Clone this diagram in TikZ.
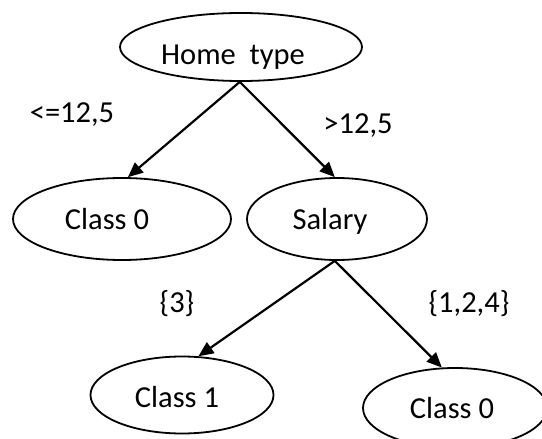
\documentclass[tikz,border=0pt]{standalone}
\usepackage{fontspec}
\setmainfont{Carlito}
\usetikzlibrary{shapes.geometric,arrows.meta}
\begin{document}
\begin{tikzpicture}[x=1pt,y=-1pt,
  oval/.style={draw=black,line width=1.8pt,ellipse,inner sep=0pt},
  txt/.style={inner sep=0pt,anchor=base,font=\fontsize{30.5}{36}\selectfont},
  arr/.style={line width=2.2pt,-{Triangle[length=15pt,width=13pt]}}]
\useasboundingbox (0,0) rectangle (542,439);
\clip (0,0) rectangle (542,439);
% ellipses
\node[oval,minimum width=242pt,minimum height=68pt] (home) at (241,47) {};
\node[oval,minimum width=218pt,minimum height=82pt] (c0) at (122,219) {};
\node[oval,minimum width=180pt,minimum height=82pt] (sal) at (337,219) {};
\node[oval,minimum width=183pt,minimum height=77pt] (c1) at (182,395) {};
\node[oval,minimum width=184pt,minimum height=80pt] (c0r) at (455,408) {};
% texts
\begin{scope}
\clip (120,0) rectangle (363,68);
\node[txt] (thome) at (233,64) {Home\ \ type};
\end{scope}
\node[txt] (tc0) at (107,229) {Class 0};
\node[txt] (tsal) at (330,229) {Salary};
\node[txt] (tc1) at (177,407) {Class 1};
\node[txt] (tc0r) at (452,418) {Class 0};
% edge labels
\node[txt] (l1) at (72,122) {<=12,5};
\node[txt] (l2) at (358,133) {>12,5};
\node[txt] (l3) at (177,312) {\{3\}};
\node[txt] (l4) at (469,312) {\{1,2,4\}};
% connectors
\draw[arr] (home.268) -- (c0.82);
\draw[arr] (home.268) -- (sal.93);
\draw[arr] (sal.267) -- (c1.67);
\draw[arr] (sal.267) -- (c0r.108);
\end{tikzpicture}
\end{document}
